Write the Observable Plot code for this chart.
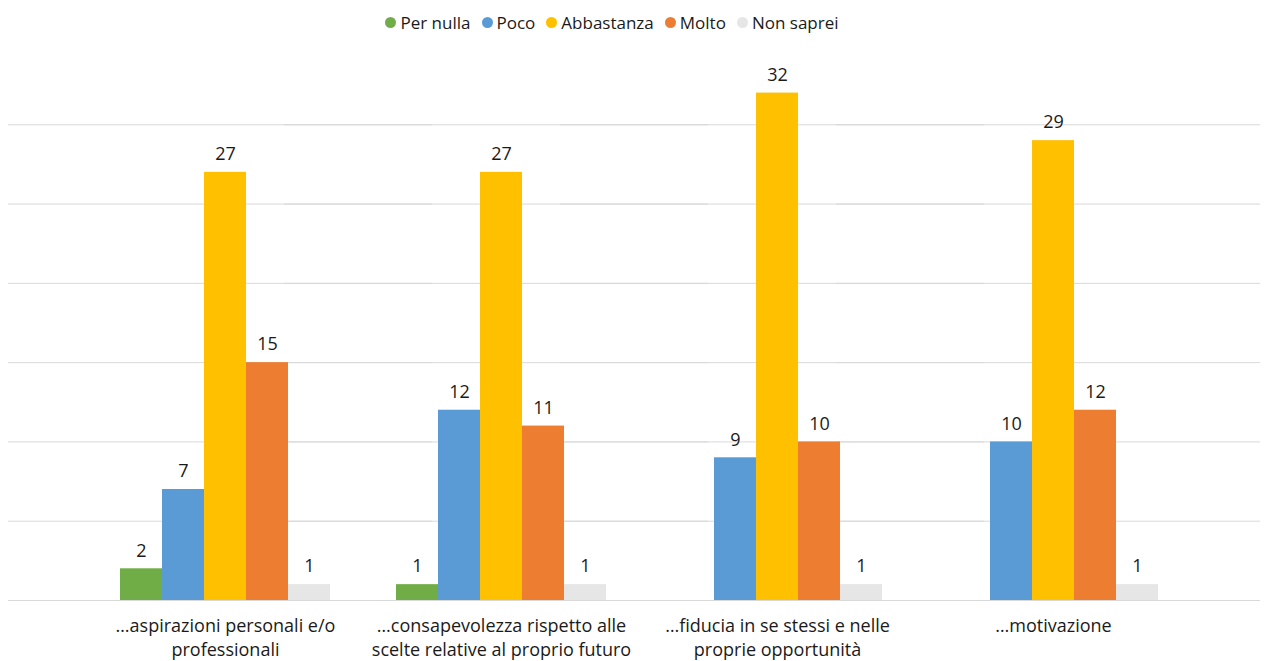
<!DOCTYPE html>
<html>
<head>
<meta charset="utf-8">
<script src="https://cdn.jsdelivr.net/npm/d3@7"></script>
<script src="https://cdn.jsdelivr.net/npm/@observablehq/plot@0.6"></script>
<style>
  body { margin: 0; background: #fff; font-family: "Open Sans", Lato, sans-serif; }
  #legend { height: 44px; display: flex; justify-content: center; align-items: center; font-size: 17px; color: #1a1a1a; padding-right: 42px; box-sizing: border-box; }
  .item { display: flex; align-items: center; margin: 0 5.5px; }
  .sw { width: 11px; height: 11px; border-radius: 50%; margin-right: 4px; }
</style>
</head>
<body>
<div id="legend"></div>
<div id="chart"></div>
<script>
const categories = [
  "…aspirazioni personali e/o professionali",
  "…consapevolezza rispetto alle scelte relative al proprio futuro",
  "…fiducia in se stessi e nelle proprie opportunità",
  "…motivazione"
];
const categoryLabels = [
  "…aspirazioni personali e/o\nprofessionali",
  "…consapevolezza rispetto alle\nscelte relative al proprio futuro",
  "…fiducia in se stessi e nelle\nproprie opportunità",
  "…motivazione"
];
const series = ["Per nulla", "Poco", "Abbastanza", "Molto", "Non saprei"];
const colors = ["#70AD47", "#5B9BD5", "#FFC000", "#ED7D31", "#E6E6E6"];
const perNulla = [2, 1, 0, 0];
const poco = [7, 12, 9, 10];
const abbastanza = [27, 27, 32, 29];
const molto = [15, 11, 10, 12];
const nonSaprei = [1, 1, 1, 1];
const gridTicks = [0, 5, 10, 15, 20, 25, 30];

const values = [perNulla, poco, abbastanza, molto, nonSaprei];
const data = series.flatMap((s, j) => categories.map((c, i) => ({category: c, series: s, value: values[j][i]})));
const shown = data.filter(d => d.value > 0);

const legend = document.getElementById("legend");
series.forEach((s, j) => {
  const it = document.createElement("div");
  it.className = "item";
  it.innerHTML = `<span class="sw" style="background:${colors[j]}"></span><span>${s}</span>`;
  legend.appendChild(it);
});

const chart = Plot.plot({
  width: 1266,
  height: 617,
  marginLeft: 87,
  marginRight: 75,
  marginTop: 1,
  marginBottom: 61,
  style: {fontFamily: "'Open Sans', Lato, sans-serif", fontSize: "18px", color: "#1a1a1a", background: "#fff"},
  fx: {domain: categories, padding: 0, label: null},
  x: {domain: series, paddingInner: 0, paddingOuter: 0.755, axis: null},
  y: {domain: [0, 35], axis: null},
  color: {domain: series, range: colors},
  marks: [
    Plot.ruleY(gridTicks, {stroke: "#D9D9D9", strokeWidth: 1, insetLeft: -79, insetRight: -69}),
    Plot.barY(shown, {fx: "category", x: "series", y: "value", fill: "series"}),
    Plot.text(shown, {fx: "category", x: "series", y: "value", text: d => String(d.value), dy: -18, lineAnchor: "middle", fill: "#1a1a1a", fontSize: 18}),
    Plot.axisFx({anchor: "bottom", tickSize: 0, tickPadding: 15, label: null, fontSize: 18, lineHeight: 1.3,
      tickFormat: d => categoryLabels[categories.indexOf(d)]})
  ]
});
document.getElementById("chart").appendChild(chart);
</script>
</body>
</html>
